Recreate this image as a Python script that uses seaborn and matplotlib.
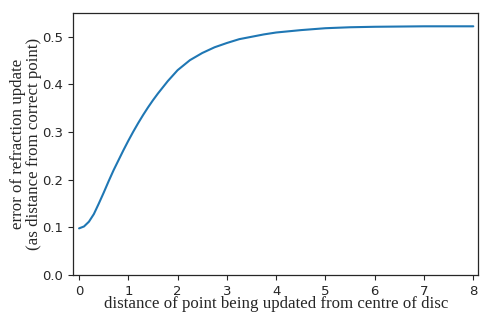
import pandas as pd
import matplotlib
matplotlib.use("Agg")
import matplotlib.pyplot as plt
import seaborn as sns

# values
distance = [0.0, 0.1, 0.2, 0.3, 0.4, 0.5, 0.6, 0.7, 0.8, 0.9, 1.0,
            1.1, 1.2, 1.3, 1.4, 1.5, 1.6, 1.8, 2.0, 2.25, 2.5, 2.75,
            3.0, 3.25, 3.5, 3.75, 4.0, 4.5, 5.0, 5.5, 6.0, 7.0, 8.0]
error = [0.098, 0.102, 0.112, 0.128, 0.150, 0.173, 0.197, 0.220, 0.241, 0.262, 0.282,
         0.301, 0.319, 0.336, 0.352, 0.367, 0.381, 0.407, 0.430, 0.451, 0.466, 0.478,
         0.487, 0.495, 0.500, 0.505, 0.509, 0.514, 0.518, 0.520, 0.521, 0.522, 0.522]

df = pd.DataFrame({"distance": distance, "error": error})

sns.set_style("ticks")
plt.rcParams["font.family"] = ["DejaVu Sans"]

fig = plt.figure(figsize=(4.91, 3.24), dpi=100)
ax = fig.add_axes([0.149, 0.151, 0.825, 0.809])

sns.lineplot(data=df, x="distance", y="error", color="#1f77b4", linewidth=1.5, ax=ax)

ax.set_xlim(-0.12, 8.1)
ax.set_ylim(0.0, 0.55)
ax.set_xticks(range(0, 9))
ax.set_yticks([0.0, 0.1, 0.2, 0.3, 0.4, 0.5])
ax.tick_params(labelsize=9.5, length=3.5, width=0.8)
for s in ax.spines.values():
    s.set_linewidth(0.9)

serif = {"family": ["Liberation Serif", "DejaVu Serif"], "size": 12.2}
ax.set_xlabel("distance of point being updated from centre of disc", fontdict=serif, labelpad=-1)
ax.set_ylabel("error of refraction update\n(as distance from correct point)", fontdict=serif,
              labelpad=0, linespacing=1.05)

fig.savefig("out.png", dpi=100)
